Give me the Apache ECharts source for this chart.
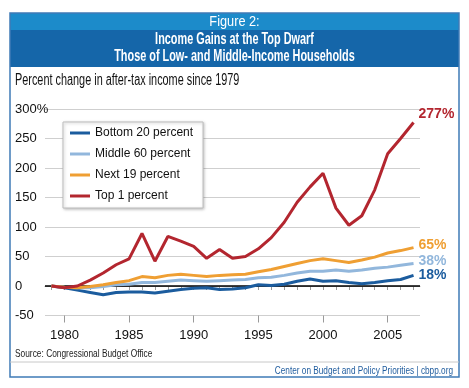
<!DOCTYPE html>
<html>
<head>
<meta charset="utf-8">
<script src="https://cdn.jsdelivr.net/npm/echarts@6/dist/echarts.min.js"></script>
<style>html,body{margin:0;padding:0;background:#fff;}#c{width:469px;height:388px;}</style>
</head>
<body>
<div id="c"></div>
<script>
var years = [];
for (var y = 1979; y <= 2007; y++) years.push(String(y));
var bottom20 = [0,-3,-7,-11,-15,-11,-10,-10,-12,-9,-6,-4,-3,-6,-5,-3,2,1,3,8,12,8,9,6,4,6,9,11,18];
var middle60 = [0,-2,-3,-3,-1,2,3,6,6,8,10,9,8,9,10,11,14,15,18,22,25,25,27,25,27,30,32,35,38];
var next19 = [0,-2,-3,-1,2,6,9,16,14,18,20,18,16,18,19,20,24,28,33,38,43,46,43,40,44,49,56,60,65];
var top1 = [0,-3,0,10,22,36,46,89,42,84,76,67,47,62,47,50,63,82,108,142,168,191,132,103,119,163,224,250,277];
var seriesNames = ['Bottom 20 percent','Middle 60 percent','Next 19 percent','Top 1 percent'];
var colors = ['#1b5c9e','#92b7dc','#ef9f33','#b3262f'];
var yTicks = [-50,0,50,100,150,200,250,300];

var FONT = "'Liberation Sans Narrow','Liberation Sans',sans-serif";
var chart = echarts.init(document.getElementById('c'));

function mk(i, data, offsetY) {
  return {
    name: seriesNames[i], type: 'line', data: data, xAxisIndex: 0,
    symbol: 'none', smooth: false, z: 3 + i,
    lineStyle: {color: colors[i], width: 3},
    itemStyle: {color: colors[i]},
    endLabel: {
      show: true, formatter: '{c}%', distance: 5, offset: [0, offsetY],
      color: colors[i], fontFamily: FONT, fontWeight: 'bold', fontSize: 14
    }
  };
}

var series = [
  mk(0, bottom20, 0),
  mk(1, middle60, -2),
  mk(2, next19, -3),
  mk(3, top1, -8)
];
series[0].markLine = {
  silent: true, symbol: ['none','none'], label: {show: false},
  lineStyle: {color: '#000', width: 1.5, type: 'solid'},
  data: [{yAxis: 0}], z: 2
};

function txt(x, y, s, font, fill, align, sx) {
  return {type: 'text', x: x, y: y, scaleX: sx, z: 3,
    style: {text: s, fill: fill, font: font, textAlign: align, textVerticalAlign: 'middle'}};
}

chart.setOption({
  animation: false,
  textStyle: {fontFamily: FONT},
  grid: {left: 45, right: 49, top: 109, bottom: 72.5, containLabel: false},
  legend: {
    orient: 'vertical', left: 63, top: 122,
    data: seriesNames,
    icon: 'rect', itemWidth: 20, itemHeight: 3, itemGap: 7,
    padding: [4, 10, 5, 7],
    backgroundColor: '#fff', borderColor: '#bdbdbd', borderWidth: 1,
    shadowBlur: 3, shadowOffsetX: 1, shadowOffsetY: 1, shadowColor: 'rgba(0,0,0,0.25)',
    textStyle: {fontFamily: FONT, fontSize: 12, color: '#111', lineHeight: 14}
  },
  xAxis: [
    {
      type: 'category', data: years, boundaryGap: true,
      axisLine: {show: true, lineStyle: {color: '#a8a8a8', width: 1}},
      axisTick: {show: true, alignWithLabel: true, interval: 0, length: 4, lineStyle: {color: '#999'}},
      axisLabel: {show: false},
      splitLine: {show: false}
    },
    {
      type: 'category', data: years, boundaryGap: true, position: 'bottom',
      axisLine: {show: false},
      axisTick: {show: true, alignWithLabel: true, length: 7, lineStyle: {color: '#999'},
        interval: function (idx, val) { return Number(val) % 5 === 0; }},
      axisLabel: {show: true, margin: 13, fontFamily: FONT, fontSize: 13, color: '#111',
        interval: function (idx, val) { return Number(val) % 5 === 0; }},
      splitLine: {show: false}
    }
  ],
  yAxis: {
    type: 'value', min: -50, max: 300, interval: 50,
    axisLine: {show: false}, axisTick: {show: false},
    splitLine: {show: true, lineStyle: {color: '#cfcfcf', width: 1}},
    axisLabel: {
      align: 'left', margin: 30, fontFamily: FONT, fontSize: 13, color: '#111',
      formatter: function (v) { return v === 300 ? '300%' : String(v); }
    }
  },
  graphic: [
    {type: 'rect', shape: {x: 10, y: 13, width: 449, height: 17}, style: {fill: '#1c8bca'}, z: 1},
    {type: 'rect', shape: {x: 10, y: 30, width: 449, height: 37}, style: {fill: '#1566a9'}, z: 1},
    {type: 'rect', shape: {x: 10, y: 13, width: 449, height: 364}, style: {fill: 'none', stroke: '#3f7bb6', lineWidth: 1.5}, z: 2},
    txt(234.5, 22, 'Figure 2:', '15px ' + FONT, '#fff', 'center', 0.85),
    txt(234.5, 39.5, 'Income Gains at the Top Dwarf', 'bold 16px ' + FONT, '#fff', 'center', 0.68),
    txt(234.5, 57, 'Those of Low- and Middle-Income Households', 'bold 16px ' + FONT, '#fff', 'center', 0.68),
    txt(15, 81, 'Percent change in after-tax income since 1979', '16px ' + FONT, '#111', 'left', 0.68),
    txt(15, 354, 'Source: Congressional Budget Office', '11px ' + FONT, '#222', 'left', 0.76),
    {type: 'line', shape: {x1: 10, y1: 362, x2: 459, y2: 362}, style: {stroke: '#c8c8c8', lineWidth: 1}, z: 3},
    txt(453, 371, 'Center on Budget and Policy Priorities | cbpp.org', '11px ' + FONT, '#1f5c9e', 'right', 0.75)
  ],
  series: series
});
</script>
</body>
</html>
